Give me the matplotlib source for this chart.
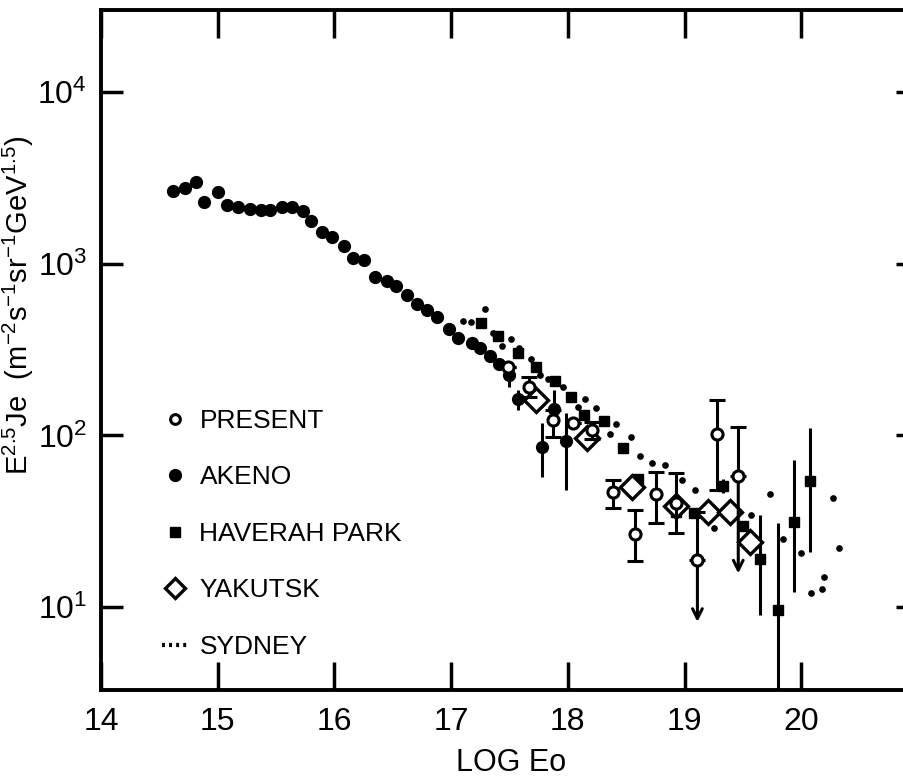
import matplotlib
matplotlib.use('Agg')

import numpy as np
import matplotlib.pyplot as plt
from matplotlib.lines import Line2D

plt.rcParams['font.family'] = ['Liberation Sans', 'DejaVu Sans']
plt.rcParams['mathtext.fontset'] = 'custom'
plt.rcParams['mathtext.rm'] = 'Liberation Sans'
plt.rcParams['mathtext.it'] = 'Liberation Sans:italic'
plt.rcParams['mathtext.bf'] = 'Liberation Sans:bold'

# Akeno (filled circles)
akeno_x = [14.62, 14.72, 14.81, 14.885, 15.0, 15.08, 15.17, 15.28, 15.37, 15.45,
           15.55, 15.64, 15.73, 15.80, 15.89, 15.98, 16.08, 16.16, 16.25, 16.35,
           16.45, 16.53, 16.62, 16.71, 16.79, 16.88, 16.98, 17.06, 17.18, 17.25,
           17.33, 17.41, 17.50, 17.57, 17.78, 17.88, 17.98]
akeno_y = [2660, 2750, 3000, 2280, 2620, 2200, 2150, 2080, 2060, 2060,
           2130, 2150, 2040, 1780, 1530, 1440, 1270, 1075, 1047, 834,
           797, 742, 655, 580, 535, 488, 415, 368, 344, 321,
           290, 260, 225, 164, 86, 142, 93]
akeno_lo = [None] * 32 + [191, 141, 57.5, 120, 48]
akeno_hi = [None] * 32 + [240, 184, 118, 184, 135]

# Present work (open circles, capped error bars)
present_x = [17.49, 17.67, 17.87, 18.04, 18.21, 18.39, 18.576, 18.756, 18.93, 19.11, 19.276, 19.46]
present_y = [251, 192, 123, 117.5, 107, 47, 26.7, 45.6, 40.2, 18.8, 102, 58]
present_lo = [251, 168, 98, 117.5, 95, 38, 18.5, 31, 26.9, 18.8, 48, 58]
present_hi = [251, 220, 140, 117.5, 120, 55, 36.7, 61.5, 60, 36, 161, 112.5]
# upper limits (arrows pointing down), tip values
limit_x = [19.11, 19.46]
limit_from = [18.8, 58]
limit_tip = [8.2, 15.7]

# Haverah Park (filled squares)
haverah_x = [17.26, 17.40, 17.576, 17.73, 17.89, 18.025, 18.14, 18.31, 18.476, 18.60,
             18.93, 19.08, 19.22, 19.33, 19.50, 19.65, 19.80, 19.94, 20.075]
haverah_y = [450, 379, 303, 251, 208, 168, 131, 122, 84, 56,
             36, 35.3, 36, 50.7, 29.5, 19, 9.6, 31.2, 54.6]
haverah_lo = [None] * 13 + [46, None, 9, 3.0, 12.3, 21]
haverah_hi = [None] * 13 + [56, None, 34.4, 30.8, 72, 110]

# Yakutsk (open diamonds)
yakutsk_x = [17.73, 18.16, 18.55, 18.93, 19.20, 19.39, 19.56]
yakutsk_y = [160, 96, 50, 39, 36, 36, 24]

# Sydney (small dots)
sydney_x = [17.10, 17.17, 17.29, 17.36, 17.44, 17.51, 17.585, 17.68, 17.76, 17.83,
            17.96, 18.09, 18.15, 18.24, 18.36, 18.41, 18.54, 18.62, 18.72, 18.83,
            18.976, 19.09, 19.25, 19.57, 19.73, 19.84, 20.00, 20.08, 20.175, 20.195,
            20.27, 20.32]
sydney_y = [466, 460, 545, 396, 332, 363, 321, 277, 225, 212,
            191, 147, 162, 144, 102, 117, 98, 76, 69, 67,
            55, 48, 28.8, 34.4, 45.4, 25, 20.6, 12, 12.7, 14.9,
            43.4, 22.2]

xticks = [14, 15, 16, 17, 18, 19, 20]
yticks = [1e1, 1e2, 1e3, 1e4]
ytick_labels = [r'$10^{1}$', r'$10^{2}$', r'$10^{3}$', r'$10^{4}$']


def asym(y, lo, hi):
    lower = [0 if l is None else v - l for v, l in zip(y, lo)]
    upper = [0 if h is None else h - v for v, h in zip(y, hi)]
    return [lower, upper]


fig = plt.figure(figsize=(9.04, 7.8), dpi=100)
ax = fig.add_axes([101 / 904, 90 / 780, 817 / 904, 680 / 780])
ax.set_yscale('log')
ax.set_xlim(14, 21)
ax.set_ylim(10 ** 0.517, 10 ** 4.478)

# Sydney
ax.plot(sydney_x, sydney_y, 'o', color='black', ms=3.8, ls='none', zorder=3)

# Akeno
ax.errorbar(akeno_x, akeno_y, yerr=asym(akeno_y, akeno_lo, akeno_hi), fmt='o',
            color='black', ms=8.5, elinewidth=2.2, capsize=0, zorder=4)

# Haverah Park
ax.errorbar(haverah_x, haverah_y, yerr=asym(haverah_y, haverah_lo, haverah_hi), fmt='s',
            color='black', ms=7, elinewidth=2.2, capsize=0, zorder=4)

# Yakutsk
ax.plot(yakutsk_x, yakutsk_y, 'D', mfc='white', mec='black', mew=2.4, ms=12.5,
        ls='none', zorder=5)

# Present
ax.errorbar(present_x, present_y, yerr=asym(present_y, present_lo, present_hi), fmt='o',
            mfc='white', mec='black', mew=2.2, ms=8, color='black',
            elinewidth=2.2, capsize=6, capthick=2.2, zorder=6)
for lx, lf, lt in zip(limit_x, limit_from, limit_tip):
    ax.annotate('', xy=(lx, lt), xytext=(lx, lf),
                arrowprops=dict(arrowstyle='->,head_length=0.7,head_width=0.35',
                                lw=2.2, color='black', shrinkA=0, shrinkB=0),
                zorder=6)

# axes styling
ax.set_xticks(xticks)
ax.set_yticks(yticks)
ax.set_yticklabels(ytick_labels)
ax.yaxis.set_minor_locator(matplotlib.ticker.NullLocator())
ax.tick_params(axis='both', which='major', direction='in', width=2.5,
               top=True, right=True, labelsize=23, pad=12)
ax.tick_params(axis='y', pad=10)
ax.tick_params(axis='x', length=20)
ax.tick_params(axis='y', length=16)
for sp in ax.spines.values():
    sp.set_linewidth(2.8)

ax.set_xlabel('LOG Eo', fontsize=22)
ax.set_ylabel(r'E$^{2.5}$Je  (m$^{-2}$s$^{-1}$sr$^{-1}$GeV$^{1.5}$)', fontsize=21)
ax.yaxis.set_label_coords(-0.079, 0.566)
ax.xaxis.set_label_coords(0.502, -0.085)

handles = [
    Line2D([0], [0], marker='o', ls='none', mfc='white', mec='black', mew=2.2, ms=7),
    Line2D([0], [0], marker='o', ls='none', color='black', ms=8.5),
    Line2D([0], [0], marker='s', ls='none', color='black', ms=6.5),
    Line2D([0], [0], marker='D', ls='none', mfc='white', mec='black', mew=2.4, ms=10),
    Line2D([0], [0], ls=(0, (0.7, 1.0)), lw=3, color='black'),
]
labels = ['PRESENT', 'AKENO', 'HAVERAH PARK', 'YAKUTSK', 'SYDNEY']
ax.legend(handles, labels, loc='upper left', bbox_to_anchor=(162 / 904, 1 - 409 / 780),
          bbox_transform=fig.transFigure, frameon=False, fontsize=19,
          handlelength=1.0, handletextpad=0.42, labelspacing=1.23, borderpad=0,
          borderaxespad=0)

plt.savefig('out.png', dpi=100)
